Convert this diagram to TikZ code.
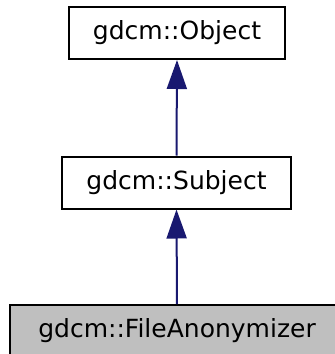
\documentclass[tikz,border=0pt]{standalone}
\usepackage{fontspec}
\setmainfont{DejaVu Sans}
\usetikzlibrary{arrows.meta}
\definecolor{edgeblue}{HTML}{191970}
\definecolor{boxgray}{HTML}{BFBFBF}
\tikzset{
  classbox/.style={draw=black, line width=2pt, fill=white, inner sep=0pt,
    minimum height=52pt, font=\fontsize{25}{30}\selectfont},
  inherit/.style={draw=edgeblue, line width=2pt,
    -{Triangle[length=29pt,width=20pt]}}
}
\begin{document}
\begin{tikzpicture}[x=1pt, y=-1pt]
\useasboundingbox (0,0) rectangle (335,354);
% Klassen
\node[classbox, minimum width=216pt] (obj) at (177,33)    {gdcm::Object};
\node[classbox, minimum width=229pt] (subj) at (176.5,182.5) {gdcm::Subject};
\node[classbox, minimum width=334pt, fill=boxgray] (anon) at (177,331) {gdcm::FileAnonymizer};
% Vererbung
\draw[inherit] (subj.north) -- (obj.south);
\draw[inherit] (anon.north) -- (subj.south);
\end{tikzpicture}
\end{document}
